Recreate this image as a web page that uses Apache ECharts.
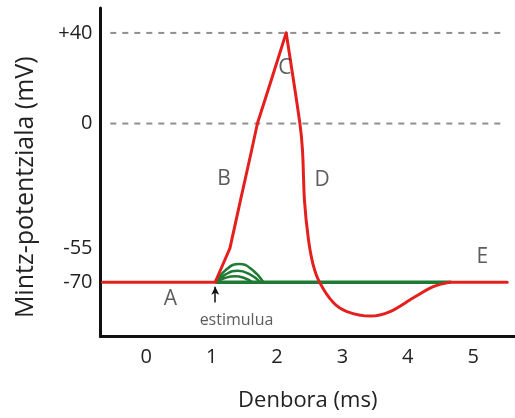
<!DOCTYPE html>
<html>
<head>
<meta charset="utf-8">
<script src="https://cdn.jsdelivr.net/npm/echarts@6/dist/echarts.min.js"></script>
<style>
  html, body { margin: 0; padding: 0; background: #fff; }
  #chart { width: 515px; height: 418px; }
</style>
</head>
<body>
<div id="chart"></div>
<script>
// Action potential: membrane potential (mV) over time (ms)
// Resting phase and depolarisation up to the peak (drawn with straight segments)
const riseTime = [-0.67, 1.055, 1.16, 1.28, 1.44, 1.61, 1.70, 1.91, 2.14];
const risePotential = [-70, -70, -63, -55, -34, -12, 0, 19, 40];
// Repolarisation, hyperpolarisation and return to rest (drawn smoothed)
const fallTime = [2.14, 2.35, 2.39, 2.42, 2.48, 2.55, 2.65, 2.86, 3.07, 3.43, 3.73, 4.08, 4.39, 4.65];
const fallPotential = [40, 0, -12, -34, -51, -62, -70, -79, -83, -85, -83, -77, -72, -70];
const restEndTime = [4.65, 5.52];
const restEndPotential = [-70, -70];

// Resting line and sub-threshold responses (green)
const restTime = [1.055, 4.65];
const restPotential = [-70, -70];
const subTime = [1.07, 1.22, 1.42, 1.62, 1.79];
const subLarge = [-70, -64.5, -62, -64.5, -70];
const subMidTime = [1.07, 1.22, 1.40, 1.58, 1.74];
const subMid = [-70, -66.5, -65, -66.5, -70];
const subSmallTime = [1.07, 1.2, 1.36, 1.5, 1.62];
const subSmall = [-70, -68.2, -67.4, -68.2, -70];

// Reference levels and tick labels
const refLevels = [40, 0];
const yTicks = [40, 0, -55, -70];
const xTicks = [0, 1, 2, 3, 4, 5];

// Phase annotations (time, potential, text)
const notes = [
  [0.37, -77.5, 'A'],
  [1.19, -24.4, 'B'],
  [2.12, 24.5, 'C'],
  [2.69, -24.8, 'D'],
  [5.14, -59, 'E']
];
const stimulusAt = 1.055;
const stimulusText = [1.38, -86.8, 'estimulua'];

const zip = (xs, ys) => xs.map((x, i) => [x, ys[i]]);
const FONT = '"Open Sans", "Noto Sans", sans-serif';
const RED = '#e3201e';
const GREEN = '#1f7a33';

const series = [];

refLevels.forEach(v => {
  series.push({
    type: 'line', data: [[-0.55, v], [5.5, v]], symbol: 'none', silent: true,
    lineStyle: { color: '#8f8f8f', width: 2, type: [6, 6] }, z: 1
  });
});

series.push({
  type: 'line', data: zip(restTime, restPotential), symbol: 'none',
  lineStyle: { color: GREEN, width: 3.5 }, z: 2
});
[[subTime, subLarge], [subMidTime, subMid], [subSmallTime, subSmall]].forEach(([t, v]) => {
  series.push({
    type: 'line', data: zip(t, v), symbol: 'none', smooth: 0.5,
    lineStyle: { color: GREEN, width: 2.5 }, z: 2
  });
});

const redLine = { color: RED, width: 3, cap: 'round', join: 'round' };
series.push({
  type: 'line', data: zip(riseTime, risePotential), symbol: 'none',
  lineStyle: redLine, z: 3,
  markLine: {
    silent: true, symbol: ['none', 'arrow'], symbolSize: [6, 8],
    label: { show: false },
    lineStyle: { color: '#111', width: 1.5, type: 'solid' },
    data: [[{ coord: [stimulusAt, -79] }, { coord: [stimulusAt, -72] }]]
  }
});
series.push({
  type: 'line', data: zip(fallTime, fallPotential), symbol: 'none', smooth: 0.3,
  lineStyle: redLine, z: 3
});
series.push({
  type: 'line', data: zip(restEndTime, restEndPotential), symbol: 'none',
  lineStyle: redLine, z: 3
});

series.push({
  type: 'scatter', symbolSize: 0, silent: true, z: 4,
  data: notes,
  label: {
    show: true, position: 'inside', formatter: p => p.value[2],
    color: '#333', fontSize: 21, fontFamily: FONT
  }
});
series.push({
  type: 'scatter', symbolSize: 0, silent: true, z: 4,
  data: [stimulusText],
  label: {
    show: true, position: 'inside', formatter: p => p.value[2],
    color: '#333', fontSize: 16, fontFamily: FONT
  }
});

const chart = echarts.init(document.getElementById('chart'));
chart.setOption({
  backgroundColor: '#fff',
  animation: false,
  grid: { left: 100.5, right: 0, top: 8, bottom: 81.5 },
  xAxis: {
    type: 'value', min: -0.7, max: 5.64,
    name: 'Denbora (ms)', nameLocation: 'middle', nameGap: 53,
    nameTextStyle: { fontSize: 22, color: '#222', fontFamily: FONT },
    axisLine: { show: true, onZero: false, lineStyle: { color: '#111', width: 3 } },
    axisTick: { show: false },
    splitLine: { show: false },
    axisLabel: {
      customValues: xTicks, margin: 11,
      fontSize: 20, color: '#222', fontFamily: FONT
    }
  },
  yAxis: {
    type: 'value', min: -94, max: 51,
    name: 'Mintz-potentziala (mV)', nameLocation: 'middle', nameGap: 62,
    nameTextStyle: { fontSize: 25, color: '#222', fontFamily: FONT, padding: [0, 30, 0, 0] },
    axisLine: { show: true, onZero: false, lineStyle: { color: '#111', width: 3 } },
    axisTick: { show: false },
    splitLine: { show: false },
    axisLabel: {
      customValues: yTicks, margin: 8,
      formatter: v => (v > 0 ? '+' + v : String(v)),
      fontSize: 20, color: '#222', fontFamily: FONT
    }
  },
  series
});
</script>
</body>
</html>
